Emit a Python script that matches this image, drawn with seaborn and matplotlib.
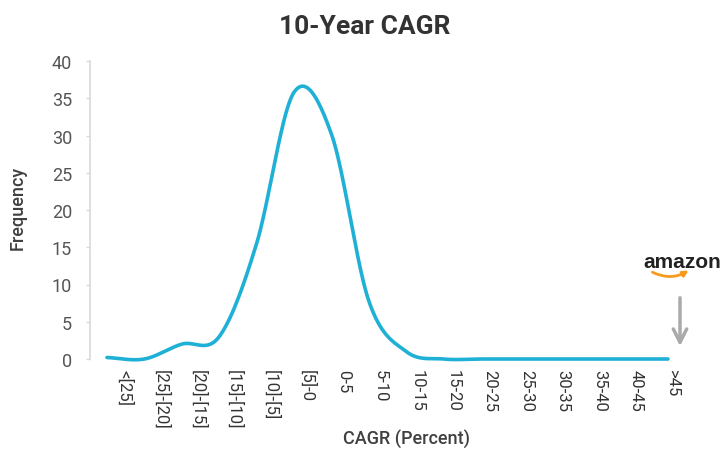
import numpy as np
import pandas as pd
import matplotlib
matplotlib.use("Agg")
import matplotlib.pyplot as plt
import seaborn as sns

# ---- data ----
categories = ['<[25]', '[25]-[20]', '[20]-[15]', '[15]-[10]', '[10]-[5]', '[5]-0',
              '0-5', '5-10', '10-15', '15-20', '20-25', '25-30', '30-35', '35-40',
              '40-45', '>45']
frequency = [0.2, 0.0, 2.0, 3.0, 15.5, 35.8, 30.2, 7.8, 1.0, 0.0, 0.0, 0.0, 0.0, 0.0, 0.0, 0.0]
yticks = [0, 5, 10, 15, 20, 25, 30, 35, 40]

title = '10-Year CAGR'
xlabel = 'CAGR (Percent)'
ylabel = 'Frequency'

sns.set_theme(style='white')
plt.rcParams['font.family'] = ['Roboto', 'DejaVu Sans']

LINE = '#1fb0d6'
SPINE = '#d9d9d9'


def smooth(y, n=40):
    """Catmull-Rom smoothing of a category series (like a 'smoothed line')."""
    y = np.asarray(y, float)
    x = np.arange(len(y), dtype=float)
    yp = np.concatenate([[y[0]], y, [y[-1]]])
    m = (yp[2:] - yp[:-2]) / 2.0
    m[0] = y[1] - y[0]
    m[-1] = y[-1] - y[-2]
    xs, ys = [], []
    t = np.linspace(0, 1, n, endpoint=False)
    h00 = 2 * t**3 - 3 * t**2 + 1
    h10 = t**3 - 2 * t**2 + t
    h01 = -2 * t**3 + 3 * t**2
    h11 = t**3 - t**2
    for i in range(len(y) - 1):
        xs.append(x[i] + t)
        ys.append(h00 * y[i] + h10 * m[i] + h01 * y[i + 1] + h11 * m[i + 1])
    xs.append([x[-1]])
    ys.append([y[-1]])
    return np.concatenate(xs), np.concatenate(ys)


xs, ys = smooth(frequency)
df = pd.DataFrame({'pos': xs, 'freq': ys})

W, H = 725, 452
fig = plt.figure(figsize=(W / 100, H / 100), dpi=100)
ax = fig.add_axes([90 / W, 1 - 360 / H, 600 / W, 298 / H])

sns.lineplot(data=df, x='pos', y='freq', ax=ax, color=LINE, lw=2.6,
             estimator=None, sort=False, clip_on=False)

ax.set_xlim(-17 / 37.4, 15 + 22 / 37.4)
ax.set_ylim(0, 40)
ax.set_yticks(yticks)
ax.set_yticklabels([str(v) for v in yticks], fontsize=13, color='#555555')
ax.set_xticks(0.48 + 0.976 * np.arange(len(categories)))
ax.set_xticklabels(categories, rotation=270, fontsize=12, color='#333333',
                   ha='center', va='top')
ax.tick_params(axis='x', length=0, pad=7)
ax.tick_params(axis='y', length=3, width=1, color=SPINE, pad=10, left=True)
ax.set_xlabel('')
ax.set_ylabel('')
for s in ['top', 'right', 'bottom']:
    ax.spines[s].set_visible(False)
ax.spines['left'].set_color(SPINE)
ax.spines['left'].set_linewidth(1.2)
ax.grid(False)

fig.text(365 / W, 1 - 27 / H, title, ha='center', va='center', fontsize=19,
         fontweight='bold', color='#333333')
fig.text(18 / W, 1 - 208 / H, ylabel, ha='center', va='center', rotation=90,
         fontsize=13, fontweight='medium', color='#404040')
fig.text(406 / W, 1 - 440 / H, xlabel, ha='center', va='center',
         fontsize=13, fontweight='medium', color='#404040')

# amazon marker
fig.text(682 / W, 1 - 263 / H, 'amazon', ha='center', va='center',
         fontfamily=['Liberation Sans', 'DejaVu Sans'], fontweight='bold',
         fontsize=15, color='#222222')
ax.annotate('', xy=(691, H - 270), xytext=(650, H - 272),
            xycoords='figure pixels', textcoords='figure pixels',
            arrowprops=dict(arrowstyle='-|>', color='#f79a1e', lw=2,
                            mutation_scale=8,
                            connectionstyle='arc3,rad=0.3'),
            annotation_clip=False)
ax.annotate('', xy=(680, H - 350), xytext=(680, H - 296),
            xycoords='figure pixels', textcoords='figure pixels',
            arrowprops=dict(arrowstyle='->', color='#aaaaaa', lw=2.5,
                            mutation_scale=24),
            annotation_clip=False)

fig.savefig('out.png', dpi=100, facecolor='white')
